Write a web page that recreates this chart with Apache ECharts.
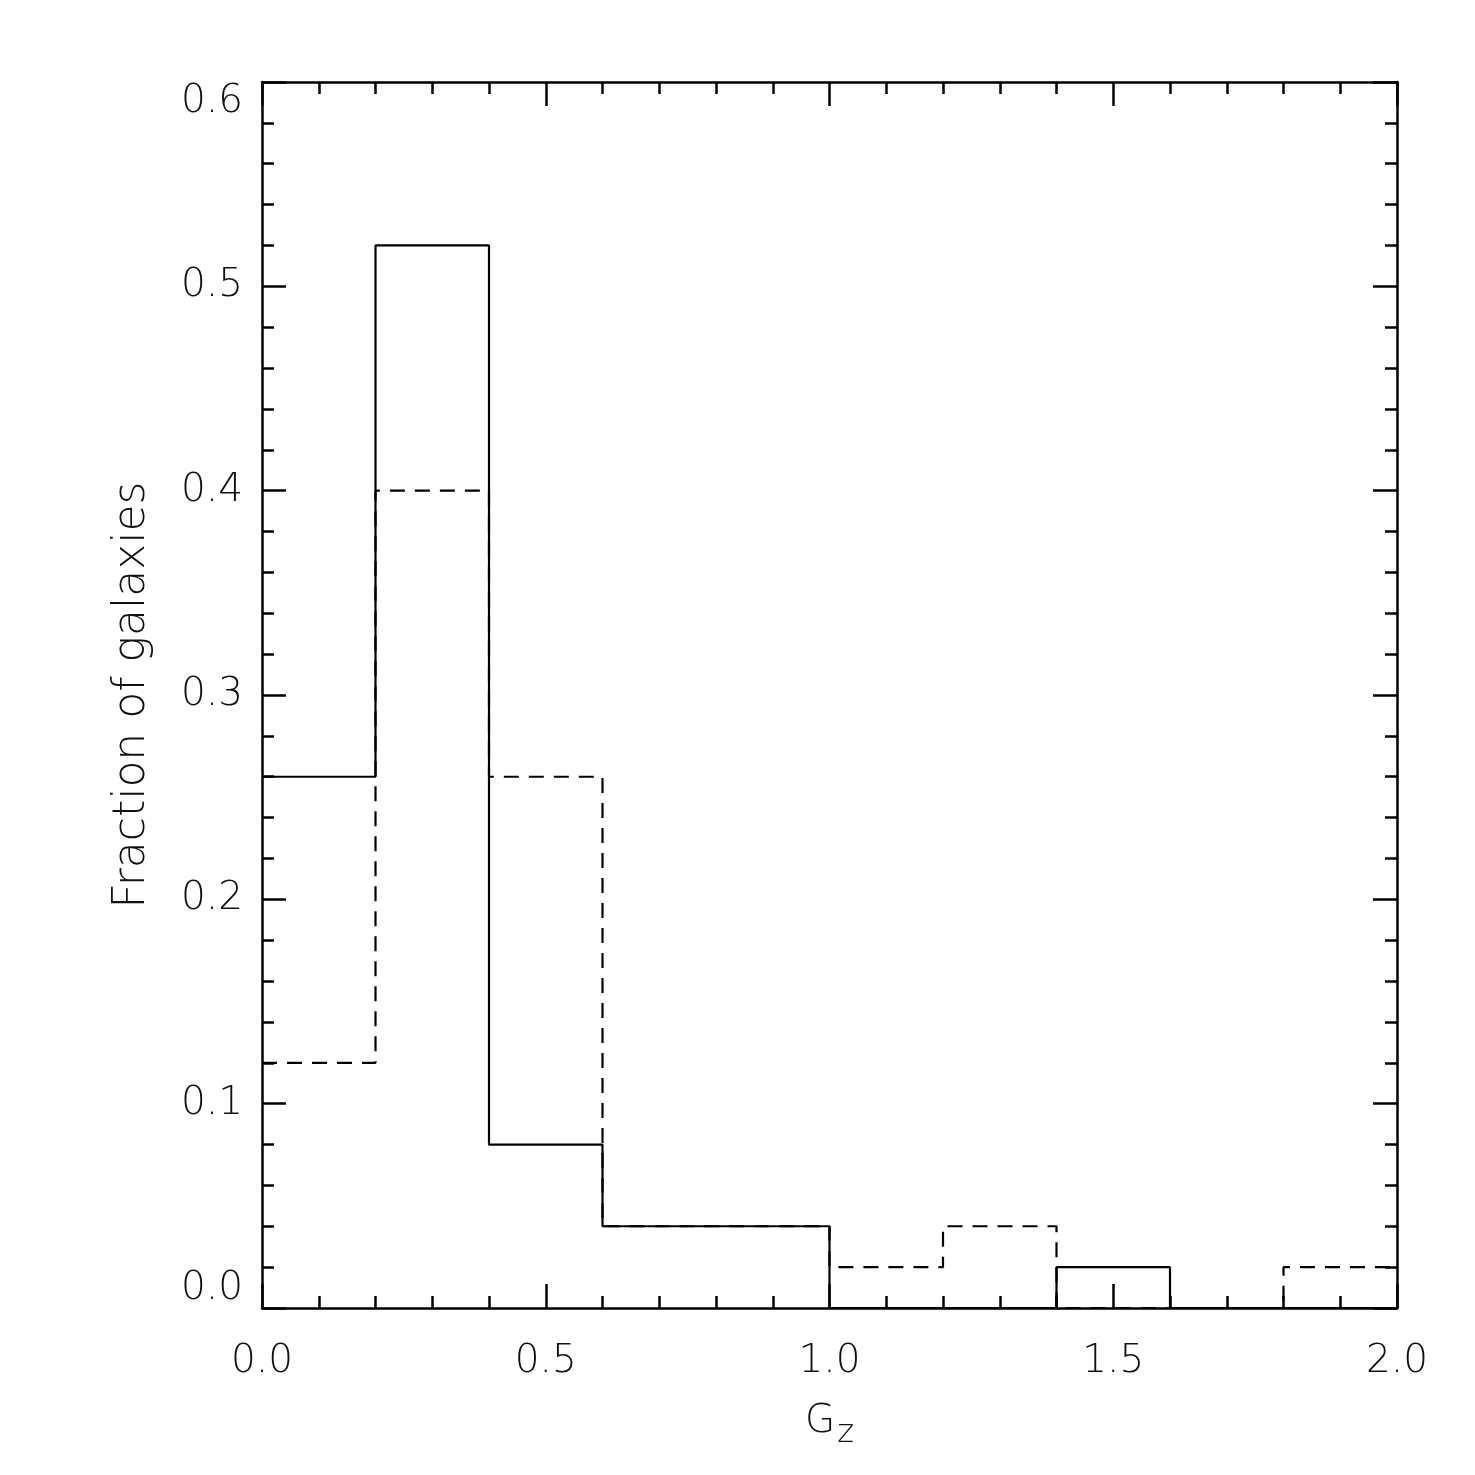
<!DOCTYPE html>
<html>
<head>
<meta charset="utf-8">
<script src="https://cdn.jsdelivr.net/npm/echarts@6/dist/echarts.min.js"></script>
<style>html,body{margin:0;padding:0;background:#fff}#c{width:1475px;height:1475px}</style>
</head>
<body>
<div id="c"></div>
<script>
// Histogram bins of G_z (width 0.2)
const binEdges = [0.0, 0.2, 0.4, 0.6, 0.8, 1.0, 1.2, 1.4, 1.6, 1.8, 2.0];
const solidFraction  = [0.26, 0.52, 0.08, 0.04, 0.04, 0.00, 0.00, 0.02, 0.00, 0.00];
const dashedFraction = [0.12, 0.40, 0.26, 0.04, 0.04, 0.02, 0.04, 0.00, 0.00, 0.02];
const xTickLabels = ['0.0', '0.5', '1.0', '1.5', '2.0'];
const yTickLabels = ['0.0', '0.1', '0.2', '0.3', '0.4', '0.5', '0.6'];

function stepData(vals) {
  const pts = vals.map((v, i) => [binEdges[i], v]);
  pts.push([binEdges[binEdges.length - 1], vals[vals.length - 1]]);
  return pts;
}

const FONT = 'DejaVu Sans';
function labelStyle(size) { return { fontFamily: FONT, fontSize: size, fontWeight: 200, color: '#111' }; }
function tick() { return { show: true, inside: true, length: 24, lineStyle: { color: '#000', width: 2.5 } }; }
function minor() { return { show: true, splitNumber: 5, length: 12, lineStyle: { color: '#000', width: 2.5 } }; }
function axLine() { return { show: true, onZero: false, lineStyle: { color: '#000', width: 2.5 } }; }

const chart = echarts.init(document.getElementById('c'));
chart.setOption({
  backgroundColor: '#fff',
  animation: false,
  grid: { left: 262, right: 78, top: 82, bottom: 167, containLabel: false },
  xAxis: [
    {
      type: 'value', min: 0, max: 2, interval: 0.5, position: 'bottom',
      name: '{g|G}{s|z}', nameLocation: 'middle', nameGap: 86,
      nameTextStyle: {
        rich: {
          g: { fontFamily: FONT, fontSize: 39, fontWeight: 200, color: '#111' },
          s: { fontFamily: FONT, fontSize: 32, fontWeight: 200, color: '#111', padding: [24, 0, 0, 2] }
        }
      },
      axisLine: axLine(), axisTick: tick(), minorTick: minor(), splitLine: { show: false },
      axisLabel: Object.assign({ margin: 34, formatter: (v) => xTickLabels[Math.round(v / 0.5)] }, labelStyle(39))
    },
    {
      type: 'value', min: 0, max: 2, interval: 0.5, position: 'top',
      axisLine: axLine(), axisTick: tick(), minorTick: minor(), splitLine: { show: false },
      axisLabel: { show: false }
    }
  ],
  yAxis: [
    {
      type: 'value', min: 0, max: 0.6, interval: 0.1, position: 'left',
      name: 'Fraction of galaxies', nameLocation: 'middle', nameGap: 107,
      nameTextStyle: labelStyle(44),
      axisLine: axLine(), axisTick: tick(), minorTick: minor(), splitLine: { show: false },
      axisLabel: Object.assign({
        margin: 19, verticalAlignMinLabel: 'bottom', verticalAlignMaxLabel: 'top',
        formatter: (v) => yTickLabels[Math.round(v / 0.1)]
      }, labelStyle(39))
    },
    {
      type: 'value', min: 0, max: 0.6, interval: 0.1, position: 'right',
      axisLine: axLine(), axisTick: tick(), minorTick: minor(), splitLine: { show: false },
      axisLabel: { show: false }
    }
  ],
  series: [
    {
      type: 'line', step: 'end', data: stepData(dashedFraction), symbol: 'none',
      lineStyle: { color: '#000', width: 2.2, type: [15, 10] }, z: 2
    },
    {
      type: 'line', step: 'end', data: stepData(solidFraction), symbol: 'none',
      lineStyle: { color: '#000', width: 2.2, type: 'solid' }, z: 3
    }
  ]
});
</script>
</body>
</html>
